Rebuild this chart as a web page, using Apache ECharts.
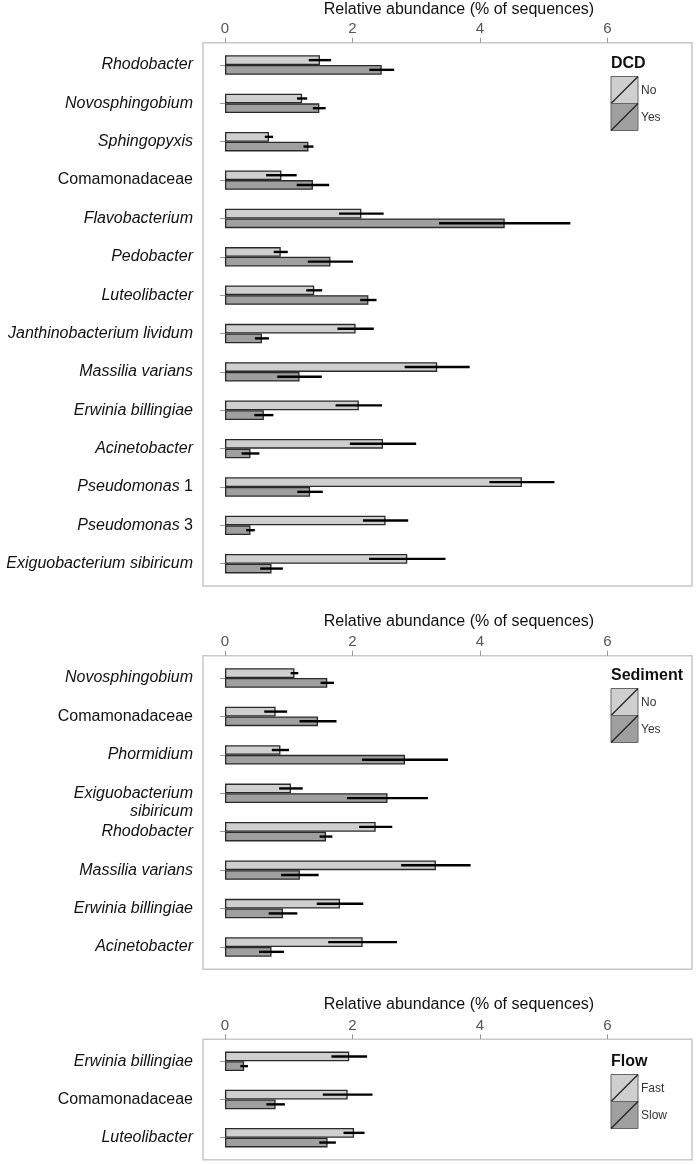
<!DOCTYPE html>
<html>
<head>
<meta charset="utf-8">
<script src="https://cdn.jsdelivr.net/npm/echarts@6/dist/echarts.min.js"></script>
<style>html,body{margin:0;padding:0;background:#fff;}#c{width:697px;height:1165px;}</style>
</head>
<body>
<div id="c"></div>
<script>
// ---------- DATA ----------
const xTicks = [0, 2, 4, 6];
const axisTitle = 'Relative abundance (% of sequences)';

// Panel 1: DCD
const dcdTitle = 'DCD';
const dcdGroups = ['No', 'Yes'];
const dcdCats = ['Rhodobacter','Novosphingobium','Sphingopyxis','Comamonadaceae','Flavobacterium','Pedobacter','Luteolibacter','Janthinobacterium lividum','Massilia varians','Erwinia billingiae','Acinetobacter','Pseudomonas 1','Pseudomonas 3','Exiguobacterium sibiricum'];
const dcdNo     = [1.49, 1.21, 0.69, 0.885, 2.14, 0.875, 1.40, 2.05, 3.33, 2.10, 2.48, 4.66, 2.52, 2.86];
const dcdNoErr  = [0.175, 0.08, 0.065, 0.24, 0.35, 0.11, 0.125, 0.285, 0.51, 0.365, 0.52, 0.51, 0.355, 0.60];
const dcdYes    = [2.46, 1.48, 1.31, 1.38, 4.39, 1.655, 2.25, 0.58, 1.17, 0.61, 0.40, 1.335, 0.40, 0.73];
const dcdYesErr = [0.195, 0.10, 0.078, 0.255, 1.03, 0.355, 0.128, 0.11, 0.35, 0.15, 0.14, 0.20, 0.068, 0.178];

// Panel 2: Sediment
const sedTitle = 'Sediment';
const sedGroups = ['No', 'Yes'];
const sedCats = ['Novosphingobium','Comamonadaceae','Phormidium','Exiguobacterium\nsibiricum','Rhodobacter','Massilia varians','Erwinia billingiae','Acinetobacter'];
const sedNo     = [1.09, 0.795, 0.87, 1.035, 2.365, 3.31, 1.805, 2.16];
const sedNoErr  = [0.06, 0.18, 0.135, 0.185, 0.26, 0.545, 0.365, 0.54];
const sedYes    = [1.605, 1.46, 2.825, 2.55, 1.585, 1.175, 0.91, 0.73];
const sedYesErr = [0.105, 0.29, 0.675, 0.635, 0.10, 0.295, 0.225, 0.195];

// Panel 3: Flow
const flowTitle = 'Flow';
const flowGroups = ['Fast', 'Slow'];
const flowCats = ['Erwinia billingiae','Comamonadaceae','Luteolibacter'];
const flowFast     = [1.95, 1.925, 2.025];
const flowFastErr  = [0.28, 0.39, 0.165];
const flowSlow     = [0.30, 0.795, 1.61];
const flowSlowErr  = [0.06, 0.145, 0.13];

// ---------- STYLE / LAYOUT ----------
const FONT = '"Liberation Sans", Arial, Helvetica, sans-serif';
const LIGHT = '#cfcfcf', DARK = '#9f9f9f';
const BAR_W = 9.7;
const boxLeft = 203, boxRight = 692;
// value range spanning the panel box (0 sits 22px inside the box, 6 at x=607)
const xMin = -0.3453, xMax = 7.329;
const panels = [
  {cats: dcdCats, a: dcdNo, ae: dcdNoErr, b: dcdYes, be: dcdYesErr, title: dcdTitle, groups: dcdGroups, top: 45.8, height: 537.1, titleY: 10, legY: 63.5},
  {cats: sedCats, a: sedNo, ae: sedNoErr, b: sedYes, be: sedYesErr, title: sedTitle, groups: sedGroups, top: 658.8, height: 307.4, titleY: 621.5, legY: 675.5},
  {cats: flowCats, a: flowFast, ae: flowFastErr, b: flowSlow, be: flowSlowErr, title: flowTitle, groups: flowGroups, top: 1042.2, height: 114.6, titleY: 1004.5, legY: 1061.5}
];

function fmtLabel(v) {
  const lines = v.split('\n').map(function (line) {
    if (line === 'Comamonadaceae') return '{n|' + line + '}';
    const m = line.match(/^(.*?)( \d+)$/);
    if (m) return '{i|' + m[1] + '}{n|' + m[2] + '}';
    return '{i|' + line + '}';
  });
  if (lines.length > 1) lines.unshift('{n| }');
  return lines.join('\n');
}

const grid = [], xAxis = [], yAxis = [], series = [], graphic = [];
panels.forEach(function (p, k) {
  grid.push({left: boxLeft, right: 697 - boxRight, top: p.top, height: p.height, containLabel: false});
  xAxis.push({
    type: 'value', gridIndex: k, min: xMin, max: xMax,
    position: 'top', offset: 3,
    axisLine: {show: false},
    axisTick: {show: true, length: 5, customValues: xTicks, lineStyle: {color: '#999', width: 1}},
    axisLabel: {margin: 6, color: '#555', fontSize: 15, fontFamily: FONT, customValues: xTicks},
    splitLine: {show: false}
  });
  yAxis.push({
    type: 'category', gridIndex: k, data: p.cats, inverse: true,
    position: 'left',
    axisLine: {show: false},
    axisTick: {show: true, alignWithLabel: true, length: 5, lineStyle: {color: '#999', width: 1}},
    axisLabel: {
      margin: 10, formatter: fmtLabel,
      rich: {
        i: {fontStyle: 'italic', fontSize: 16, fontFamily: FONT, color: '#111', lineHeight: 18.6},
        n: {fontStyle: 'normal', fontSize: 16, fontFamily: FONT, color: '#111', lineHeight: 18.6}
      }
    }
  });
  const sets = [[p.a, p.ae, LIGHT, p.groups[0], -1], [p.b, p.be, DARK, p.groups[1], 1]];
  sets.forEach(function (s) {
    series.push({
      type: 'bar', name: s[3], xAxisIndex: k, yAxisIndex: k, data: s[0],
      barWidth: BAR_W, barGap: '0%',
      itemStyle: {color: s[2], borderColor: '#2a2a2a', borderWidth: 1.3},
      z: 2, silent: true
    });
  });
  sets.forEach(function (s) {
    series.push({
      type: 'custom', xAxisIndex: k, yAxisIndex: k, z: 5, silent: true,
      data: s[0].map(function (v, i) { return [v, i, s[1][i]]; }),
      encode: {x: 0, y: 1},
      renderItem: function (params, api) {
        const m = api.value(0), idx = api.value(1), e = api.value(2);
        const p1 = api.coord([m - e, idx]);
        const p2 = api.coord([m + e, idx]);
        const y = p1[1] + s[4] * BAR_W / 2;
        return {type: 'line', shape: {x1: p1[0], y1: y, x2: p2[0], y2: y},
                style: {stroke: '#000', lineWidth: 2.4}};
      }
    });
  });
  // panel box
  graphic.push({type: 'rect', z: 0, shape: {x: boxLeft, y: p.top - 3, width: boxRight - boxLeft, height: p.height + 6},
    style: {fill: 'none', stroke: '#c8c8c8', lineWidth: 1.5}});
  // axis title
  graphic.push({type: 'text', x: 459, y: p.titleY, style: {text: axisTitle, font: '16px ' + FONT, fill: '#111', align: 'center', verticalAlign: 'middle'}});
  // legend
  const lx = 611, ly = p.legY;
  graphic.push({type: 'text', x: lx, y: ly, style: {text: p.title, font: 'bold 16px ' + FONT, fill: '#111', align: 'left', verticalAlign: 'middle'}});
  [LIGHT, DARK].forEach(function (c, j) {
    const y0 = ly + 13 + j * 27;
    graphic.push({type: 'rect', shape: {x: lx, y: y0, width: 27, height: 27}, style: {fill: c, stroke: '#666', lineWidth: 1}});
    graphic.push({type: 'line', shape: {x1: lx, y1: y0 + 27, x2: lx + 27, y2: y0}, style: {stroke: '#222', lineWidth: 1.2}});
    graphic.push({type: 'text', x: lx + 30, y: y0 + 14, style: {text: p.groups[j], font: '12px ' + FONT, fill: '#333', align: 'left', verticalAlign: 'middle'}});
  });
});

const chart = echarts.init(document.getElementById('c'), null, {renderer: 'canvas'});
chart.setOption({animation: false, backgroundColor: '#fff', grid: grid, xAxis: xAxis, yAxis: yAxis, series: series, graphic: graphic});
</script>
</body>
</html>
